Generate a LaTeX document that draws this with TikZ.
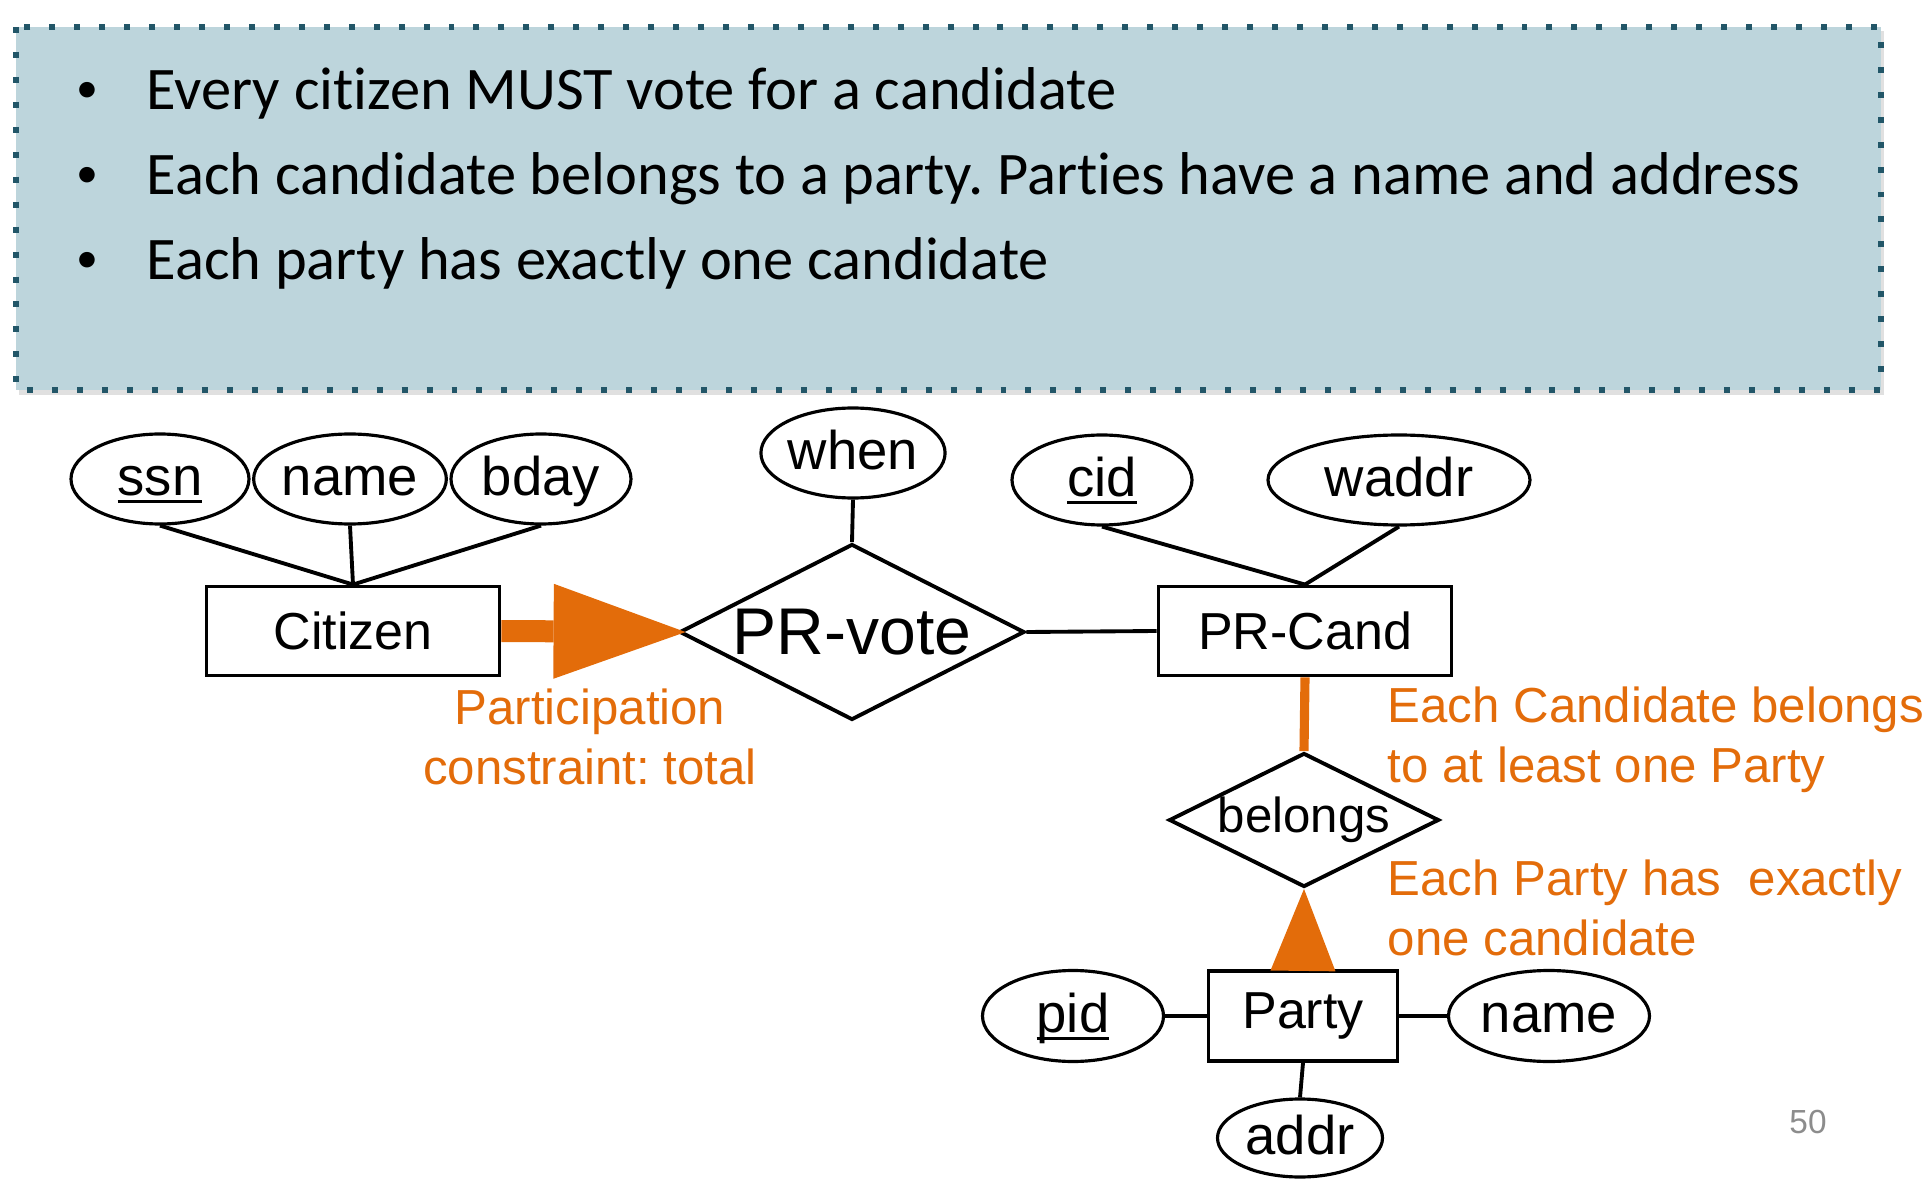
\documentclass[tikz,border=0pt]{standalone}
\usepackage{fontspec}
\setmainfont{Liberation Sans}
\newfontfamily\slidefont[Ligatures=NoCommon]{Carlito}
\usetikzlibrary{shapes.geometric,arrows.meta}
\definecolor{boxfill}{RGB}{189,213,220}
\definecolor{boxdots}{RGB}{34,86,104}
\definecolor{erorange}{RGB}{227,108,10}
\definecolor{pagegray}{RGB}{140,140,140}
\newcommand{\keyname}[1]{\setbox0=\hbox{#1}\rlap{\rule[-0.15em]{\wd0}{0.065em}}\box0}
\frenchspacing

\begin{document}
\begin{tikzpicture}[
        attr/.style={ellipse, draw, line width=0.9pt, minimum height=0.90cm, inner sep=0pt, text height=0.94em, text depth=0.02em, font=\fontsize{15.5}{18}\selectfont},
        entity/.style={rectangle, draw, line width=1.1pt, minimum height=0.89cm, inner sep=0pt, font=\fontsize{14.8}{17}\selectfont},
        rel/.style={diamond, draw, line width=1.1pt, inner sep=0pt, aspect=2},
        link/.style={line width=1.1pt},
        req/.style={anchor=base west, inner sep=0pt, font=\slidefont\fontsize{17.2}{20}\selectfont},
        reqdot/.style={anchor=center, inner sep=0pt, font=\slidefont\fontsize{12.5}{14}\selectfont},
        note/.style={erorange, inner sep=0pt, font=\fontsize{14}{17}\selectfont}
    ]
        \useasboundingbox (0,0) rectangle (19.28,-11.84);

        % Requirements box (dotted frame)
        \fill[black, opacity=0.12] (0.19,-0.31) rectangle (18.84,-3.95);
        \fill[boxfill] (0.16,-0.27) rectangle (18.81,-3.90);
        \draw[boxdots, line width=1.7pt, dash pattern=on 1.7pt off 5.4pt] (0.16,-0.27) rectangle (18.81,-3.90);

        % Requirements
        \node[reqdot] (dot1) at (0.87,-0.92) {•};
        \node[req] (req1) at (1.46,-1.10) {Every citizen MUST vote for a candidate};
        \node[reqdot] (dot2) at (0.87,-1.77) {•};
        \node[req] (req2) at (1.46,-1.95) {Each candidate belongs to a party. Parties have a name and address};
        \node[reqdot] (dot3) at (0.87,-2.62) {•};
        \node[req] (req3) at (1.46,-2.80) {Each party has exactly one candidate};

        % Entities
        \node[entity, minimum width=2.93cm] (citizen) at (3.53,-6.31) {Citizen};
        \node[entity, minimum width=2.93cm] (prcand) at (13.05,-6.31) {PR-Cand};
        \node[entity, minimum width=1.89cm, minimum height=0.90cm] (party) at (13.03,-10.16) {Party};

        % Relationships
        \node[rel, minimum width=3.45cm, minimum height=1.76cm, font=\fontsize{18.8}{22}\selectfont] (prvote) at (8.52,-6.32) {PR-vote};
        \node[rel, minimum width=2.70cm, minimum height=1.34cm, font=\fontsize{14}{17}\selectfont] (belongs) at (13.04,-8.20) {belongs};

        % Attributes
        \node[attr, minimum width=1.78cm] (ssn) at (1.60,-4.79) {\keyname{ssn}};
        \node[attr, minimum width=1.77cm] (cname) at (3.50,-4.79) {name};
        \node[attr, minimum width=1.80cm] (bday) at (5.41,-4.79) {bday};
        \node[attr, minimum width=1.79cm] (when) at (8.53,-4.53) {when};
        \node[attr, minimum width=1.80cm] (cid) at (11.02,-4.80) {\keyname{cid}};
        \node[attr, minimum width=2.62cm] (waddr) at (13.99,-4.80) {waddr};
        \node[attr, minimum width=1.81cm, minimum height=0.91cm] (pid) at (10.73,-10.16) {\keyname{pid}};
        \node[attr, minimum width=2.01cm, minimum height=0.91cm] (pname) at (15.49,-10.16) {name};
        \node[attr, minimum width=1.65cm, minimum height=0.78cm] (addr) at (13.00,-11.38) {addr};

        % Attribute links
        \draw[link] (ssn.south) -- (citizen.north);
        \draw[link] (cname.south) -- (citizen.north);
        \draw[link] (bday.south) -- (citizen.north);
        \draw[link] (when.south) -- (prvote.north);
        \draw[link] (cid.south) -- (prcand.north);
        \draw[link] (waddr.south) -- (prcand.north);
        \draw[link] (party.west) -- (pid.east);
        \draw[link] (party.east) -- (pname.west);
        \draw[link] (party.south) -- (addr.north);

        % Relationship links
        \draw[link] (prvote.east) -- (prcand.west);
        \draw[erorange, line width=0.22cm, shorten >=-0.08cm, -{Triangle[length=1.32cm, width=0.95cm, line width=0pt]}] (citizen.east) -- (prvote.west);
        \draw[erorange, line width=2.6pt] (prcand.south) -- (belongs.north);
        \draw[erorange, line width=0.5pt, -{Triangle[length=0.82cm, width=0.65cm, line width=0pt]}] (party.north) -- (belongs.south);

        % Constraint notes
        \node[note, align=center, anchor=north] (totalnote) at (5.90,-6.88) {Participation\\constraint: total};
        \node[note, align=left, anchor=north west] (candnote) at (13.87,-6.86) {Each Candidate belongs\\to at least one Party};
        \node[note, align=left, anchor=north west] (partynote) at (13.87,-8.59) {Each Party has\ \ exactly\\one candidate};

        % Page number
        \node[pagegray, font=\fontsize{9.5}{11}\selectfont] (pagenum) at (18.08,-11.22) {50};

    \end{tikzpicture}
\end{document}
